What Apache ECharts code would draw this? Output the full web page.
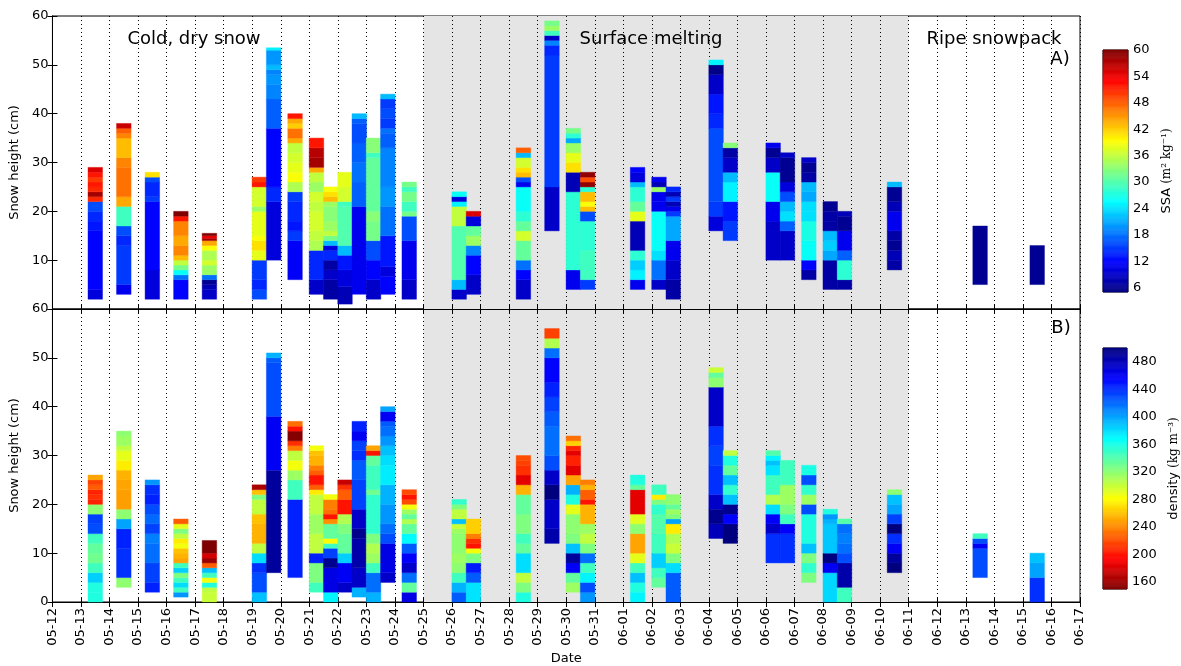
<!DOCTYPE html>
<html>
<head>
<meta charset="utf-8">
<script src="https://cdn.jsdelivr.net/npm/echarts@6/dist/echarts.min.js"></script>
<style>
html,body{margin:0;padding:0;background:#fff;}
#chart{width:1181px;height:666px;}
</style>
</head>
<body>
<div id="chart"></div>
<script>
// ---------- DATA ----------
// tick labels of the date axis (day 0 = 05-12)
const dateLabels = ['05-12','05-13','05-14','05-15','05-16','05-17','05-18','05-19','05-20','05-21','05-22','05-23','05-24','05-25','05-26','05-27','05-28','05-29','05-30','05-31','06-01','06-02','06-03','06-04','06-05','06-06','06-07','06-08','06-09','06-10','06-11','06-12','06-13','06-14','06-15','06-16','06-17'];
// measurement times of each profile (days after 05-12 00:00)
const times = [1.5,2.5,3.5,4.5,5.5,7.25,7.75,8.5,9.25,9.75,10.25,10.75,11.25,11.75,12.5,14.25,14.75,16.5,17.5,18.25,18.75,20.5,21.25,21.75,23.25,23.75,25.25,25.75,26.5,27.25,27.75,29.5,32.5,34.5];
// surface melting period (days)
const meltingPeriod = [13, 30];
const phaseLabels = ['Cold, dry snow', 'Surface melting', 'Ripe snowpack'];

// Profiles: first number = bottom height (cm), then [layer top (cm), value] upward
// SSA (m2 kg-1)
const ssa01 = [2,[4,10],[16,12],[18,13],[20,14],[22,16],[23,51],[24,58],[25,51],[26,52],[27,50],[28,52],[29,55]];
const ssa02 = [3,[5,11],[13,15],[15,14],[17,16],[21,29],[23,44],[29,47],[31,46],[35,43],[36,46],[37,48],[38,56]];
const ssa03 = [2,[8,10],[22,12],[23,15],[26,14],[27,16],[28,41]];
const ssa04 = [2,[6,12],[7,18],[8,26],[9,32],[10,36],[11,43],[13,46],[15,44],[18,46],[19,52],[20,60]];
const ssa05 = [2,[4,9],[5,8],[6,6],[7,18],[9,34],[10,37],[12,35],[13,39],[14,44],[14.5,58],[15,54],[15.5,60]];
const ssa06 = [2,[4,16],[6,14],[10,15],[12,38],[14,41],[15,39],[20,38],[21,34],[23,37],[25,37],[26,52],[27,50]];
const ssa07 = [10,[22,10],[25,14],[37,12],[43,17],[46,19],[48,20],[49,19],[50,22],[53,20],[53.5,25]];
const ssa08 = [6,[14,11.5],[16,15],[18,13],[22,14],[24,15],[26,35],[28,39],[30,38],[32,37],[34,36],[35,44],[37,47],[38,42],[39,44],[40,52]];
const ssa09 = [3,[6,9],[12,14],[14,35],[16,36],[18,37],[20,37],[22,36],[24,37],[26,34],[28,36],[29,44],[31,58],[33,57],[35,52]];
const ssa10 = [2,[6,7],[8,9],[10,7],[12,14],[13,10],[14,22],[15,32],[16,36],[18,34],[21,33],[22,34],[23,43],[24,41],[25,39]];
const ssa11 = [1,[4.6,8],[8,10],[11,13],[13,22],[21,30],[22,29],[25,37],[28,38]];
const ssa12 = [3,[21,11],[26,17],[30,18],[34,17],[38,16],[39,17],[40,22]];
const ssa13 = [2,[6,9],[10,12],[14,16],[18,32],[20,33],[31,31],[32,29],[35,33]];
const ssa14 = [3,[6.7,12],[8.7,10],[15,13],[21,18],[25,20],[33,19],[36,17],[37,18],[39,15],[41,16],[43,15],[44,22]];
const ssa15 = [2,[6,9],[14,11],[19,16],[20,32],[22,29],[24,32],[25,29],[26,32]];
const ssa16 = [2,[4,9],[6,22],[17,30],[21,36],[22,25],[23,10],[24,26]];
const ssa17 = [3,[7,9],[11,12],[13,19],[15,34],[17,31],[19,10],[20,55]];
const ssa18 = [2,[6,9],[8,12],[10,18],[14,31],[16,37],[18,31],[20,28],[25,26],[26,11],[27,16],[28,43],[29,41],[30,37],[31,37],[32,22],[33,48]];
const ssa19 = [16,[25,9],[52,15],[54,14],[55,19],[56,9],[57,29],[58,34],[59,32]];
const ssa20 = [4,[8,11],[24,28],[28,8],[30,41],[32,38],[34,34],[35,21],[36,28],[37,32]];
const ssa21 = [4,[6,15],[12,29],[18,28],[20,16],[21,43],[22,39],[24,43],[25,28],[26,59],[27,49],[28,59]];
const ssa22 = [4,[6,11],[8,25],[10,23],[12,28],[18,8],[20,38],[22,31],[25,28],[26,22],[28,10],[29,12]];
const ssa23 = [4,[6,9],[10,18],[12,24],[20,26],[22,11],[24,11],[25,34],[26,8],[27,11]];
const ssa24 = [2,[6,7],[10,9],[14,11],[19,21],[20,15],[21,11],[22,8],[23,15],[24,8],[25,14]];
const ssa25 = [16,[19,10],[22,15],[37,16],[40,14],[44,13],[48,9],[50,5.5],[51,25]];
const ssa26 = [14,[18,15],[22,13],[26,25],[28,22],[31,9],[33,7],[34,33]];
const ssa27 = [10,[18,9],[22,11],[28,26],[31,9],[33,6],[34,11]];
const ssa28 = [10,[16,9],[18,17],[20,24],[22,22],[24,16],[26,10],[31,6],[32,9]];
const ssa29 = [6,[8,7],[10,12],[14,26],[18,27],[20,24],[22,24],[24,21],[26,22],[28,7],[30,6],[31,9]];
const ssa30 = [4,[10,7],[12,21],[14,23],[16,22],[18,7],[20,7],[22,6]];
const ssa31 = [4,[6,7],[10,28],[12,17],[16,11],[19,6],[20,8]];
const ssa32 = [8,[10,7],[12,8],[14,6],[16,7],[20,11],[22,8],[25,6],[26,22]];
const ssa33 = [5,[17,6]];
const ssa34 = [5,[13,6]];

// density (kg m-3)
const rho01 = [0,[2,358],[4,358],[6,385],[8,347],[10,330],[12,335],[14,347],[16,430],[18,434],[20,320],[21,205],[22,210],[23,205],[24,226],[25,216],[26,250]];
const rho02 = [3,[5,320],[11,440],[15,445],[17,400],[19,320],[23,248],[25,250],[27,255],[29,275],[31,290],[32,303],[34,315],[35,320]];
const rho03 = [2,[4,445],[8,434],[12,418],[14,412],[16,434],[18,420],[20,430],[22,445],[24,440],[25,405]];
const rho04 = [1,[2,405],[3,347],[4,380],[5,347],[6,325],[7,385],[8,347],[9,250],[10,255],[11,260],[12,285],[13,275],[14,303],[15,325],[16,290],[17,226]];
const rho05 = [0,[2,300],[3,303],[4,358],[5,285],[6,347],[7,390],[8,226],[9,160],[10,180],[12.6,150]];
const rho06 = [0,[2,390],[6,430],[8,440],[10,380],[12,303],[16,255],[18,260],[21,303],[22,325],[23,260],[24,165]];
const rho07 = [6,[27,490],[38,460],[49,430],[50,425],[51,395]];
const rho08 = [5,[21,445],[25,347],[27,315],[29,285],[31,303],[32,237],[33,210],[35,152],[36,200],[37,232]];
const rho09 = [2,[4,347],[8,325],[10,445],[14,303],[18,315],[22,303],[23,275],[24,226],[26,200],[27,226],[28,237],[30,255],[31,260],[32,285]];
const rho10 = [0,[2,372],[7,465],[9,495],[11,434],[12,347],[13,281],[16,335],[17,243],[18,200],[19,232],[21,237],[22,285]];
const rho11 = [2,[4,475],[8,460],[10,385],[14,335],[16,325],[18,308],[21,200],[23,226],[24,210],[25,175]];
const rho12 = [1,[3,395],[7,475],[13,485],[15,495],[19,475],[25,434],[29,425],[31,440],[33,434],[35,460],[37,445]];
const rho13 = [0,[2,395],[6,418],[8,347],[10,315],[12,308],[14,325],[22,352],[23,330],[28,347],[30,335],[31,200],[32,250]];
const rho14 = [4,[6,475],[12,465],[14,430],[16,418],[20,405],[24,395],[28,375],[30,380],[32,390],[34,405],[36,418],[37,425],[39,460],[40,400]];
const rho15 = [0,[2,465],[4,335],[6,418],[8,475],[10,458],[12,425],[14,370],[16,335],[17,308],[18,335],[19,315],[20,285],[21,220],[22,200],[23,220]];
const rho16 = [0,[2,425],[4,395],[6,347],[8,320],[10,315],[14,320],[15,315],[16,300],[17,390],[19,303],[20,325],[21,352]];
const rho17 = [0,[4,378],[6,425],[8,448],[10,325],[11,285],[12,200],[13,210],[14,237],[17,265]];
const rho18 = [0,[2,358],[4,325],[6,303],[10,380],[12,335],[14,347],[18,325],[22,335],[24,255],[26,185],[28,210],[29,216],[30,220]];
const rho19 = [12,[15,485],[21,475],[24,500],[27,475],[30,430],[36,418],[39,425],[42,434],[45,445],[50,456],[52,418],[54,308],[56,216]];
const rho20 = [2,[4,315],[6,335],[8,458],[10,490],[12,390],[14,325],[18,320],[20,290],[22,358],[24,395],[26,250],[28,185],[30,205],[31,185],[32,205],[33,265],[34,232]];
const rho21 = [0,[2,405],[4,430],[6,372],[8,347],[10,418],[12,325],[14,303],[16,315],[20,255],[21,200],[23,226],[24,255],[25,237]];
const rho22 = [0,[2,372],[4,358],[6,390],[8,347],[10,290],[14,250],[16,320],[18,292],[23,185],[24,335],[26,358]];
const rho23 = [3,[5,335],[7,347],[10,385],[14,347],[18,340],[20,352],[21,325],[22,275],[24,347]];
const rho24 = [0,[6,425],[8,380],[10,325],[12,300],[14,308],[16,275],[17,400],[18,325],[19,315],[20,335],[22,320]];
const rho25 = [13,[16,480],[19,495],[22,475],[28,440],[32,434],[36,440],[44,475],[46,320],[47,335],[48,300]];
const rho26 = [12,[16,500],[18,456],[20,495],[22,390],[24,352],[26,390],[28,335],[30,358],[31,303]];
const rho27 = [8,[14,440],[16,475],[18,458],[20,380],[22,308],[26,347],[28,378],[29,390],[30,372],[31,340]];
const rho28 = [8,[14,440],[16,458],[18,347],[20,325],[24,315],[29,347]];
const rho29 = [4,[6,325],[8,352],[10,325],[12,390],[18,358],[20,430],[22,315],[24,352],[26,430],[28,360]];
const rho30 = [0,[6,382],[8,460],[10,500],[16,388],[17,395],[18,405],[19,358]];
const rho31 = [0,[3,347],[8,485],[10,430],[12,418],[14,412],[16,418],[17,340]];
const rho32 = [6,[8,500],[10,490],[12,460],[14,440],[16,500],[18,434],[20,400],[22,390],[23,320]];
const rho33 = [5,[11,430],[12,460],[13,430],[14,347]];
const rho34 = [0,[5,440],[8,400],[10,390]];

const ssaProfiles = [ssa01,ssa02,ssa03,ssa04,ssa05,ssa06,ssa07,ssa08,ssa09,ssa10,ssa11,ssa12,ssa13,ssa14,ssa15,ssa16,ssa17,ssa18,ssa19,ssa20,ssa21,ssa22,ssa23,ssa24,ssa25,ssa26,ssa27,ssa28,ssa29,ssa30,ssa31,ssa32,ssa33,ssa34];
const rhoProfiles = [rho01,rho02,rho03,rho04,rho05,rho06,rho07,rho08,rho09,rho10,rho11,rho12,rho13,rho14,rho15,rho16,rho17,rho18,rho19,rho20,rho21,rho22,rho23,rho24,rho25,rho26,rho27,rho28,rho29,rho30,rho31,rho32,rho33,rho34];

// colour scale ranges and colourbar tick labels
const ssaRange = [5, 60];
const rhoRange = [150, 500];
const ssaTicks = [6,12,18,24,30,36,42,48,54,60];
const rhoTicks = [160,200,240,280,320,360,400,440,480];

// ---------- BUILD ----------
const FONT = 'DejaVu Sans';
const HALF = 0.255; // half width of a profile column (days)
const jet = ['#00007F','#0000FF','#007FFF','#00FFFF','#7FFF7F','#FFFF00','#FF7F00','#FF0000','#7F0000'];

function layers(profiles) {
  const out = [];
  profiles.forEach((p, i) => {
    let b = p[0];
    for (let k = 1; k < p.length; k++) {
      out.push([times[i], b, p[k][0], p[k][1]]);
      b = p[k][0];
    }
  });
  return out;
}
function ramp(range) {
  const out = [], n = 220, st = (range[1] - range[0]) / n;
  for (let i = 0; i < n; i++) {
    const v = range[0] + i * st;
    out.push([0, v, v + st, v + st / 2]);
  }
  return out;
}
function renderCell(params, api) {
  const t = api.value(0), b = api.value(1), top = api.value(2);
  const p0 = api.coord([t - HALF, top]);
  const p1 = api.coord([t + HALF, b]);
  const c = api.visual('color');
  return {type: 'rect', shape: {x: p0[0], y: p0[1], width: p1[0] - p0[0], height: p1[1] - p0[1]},
          style: {fill: c, stroke: c, lineWidth: 0.4}};
}
function renderBar(params, api) {
  const p0 = api.coord([0, api.value(2)]);
  const p1 = api.coord([1, api.value(1)]);
  const c = api.visual('color');
  return {type: 'rect', shape: {x: p0[0], y: p0[1], width: p1[0] - p0[0], height: p1[1] - p0[1]},
          style: {fill: c, stroke: c, lineWidth: 0.6}};
}

const chart = echarts.init(document.getElementById('chart'), null, {renderer: 'canvas'});
const L = 51, W = 1029;
const txt = {color: '#000', fontFamily: FONT, fontSize: 13};
const inTick = {show: true, inside: true, length: 5, lineStyle: {color: '#000'}};
const axLine = {show: true, lineStyle: {color: '#000', width: 1}};

function dateX(grid, showLabels, top) {
  return {
    type: 'value', gridIndex: grid, min: 0, max: 36, interval: 1,
    position: top ? 'top' : 'bottom', z: 5,
    axisLine: axLine, axisTick: inTick,
    axisLabel: showLabels ? Object.assign({rotate: 90, margin: 6, formatter: v => dateLabels[Math.round(v)] || ''}, txt) : {show: false},
    splitLine: top ? {show: false} : {show: true, lineStyle: {color: '#000', type: [1, 3], width: 1}},
    name: showLabels ? 'Date' : '', nameLocation: 'middle', nameGap: 50,
    nameTextStyle: txt
  };
}
function heightY(grid, right, hideZero) {
  return {
    type: 'value', gridIndex: grid, min: 0, max: 60, interval: 10,
    position: right ? 'right' : 'left',
    axisLine: axLine, axisTick: inTick, splitLine: {show: false},
    axisLabel: right ? {show: false} : Object.assign({margin: 4, formatter: v => (hideZero && v === 0) ? '' : String(v)}, txt),
    name: right ? '' : 'Snow height (cm)', nameLocation: 'middle', nameGap: 28, nameTextStyle: txt
  };
}
function cbY(grid, range, ticks, nameRich, gap) {
  return {
    type: 'value', gridIndex: grid, min: range[0], max: range[1], position: 'right',
    axisLine: {show: false}, axisTick: {show: false}, splitLine: {show: false},
    axisLabel: Object.assign({customValues: ticks, margin: 5}, txt),
    name: nameRich, nameLocation: 'middle', nameRotate: 90, nameGap: gap,
    nameTextStyle: {color: '#000', fontFamily: FONT, fontSize: 13,
      rich: {a: {fontFamily: FONT, fontSize: 13, color: '#000'}, b: {fontFamily: 'DejaVu Serif', fontSize: 12, color: '#000'}}}
  };
}

const gray = {silent: true, itemStyle: {color: '#e5e5e5'}, data: [[{xAxis: meltingPeriod[0]}, {xAxis: meltingPeriod[1]}]]};
const labelFont = '18px "DejaVu Sans"';
function note(text, x, y) {
  return {type: 'text', x: x, y: y, z: 20, style: {text: text, font: labelFont, fill: '#000', align: 'center', verticalAlign: 'middle', textAlign: 'center', textVerticalAlign: 'middle'}};
}

const option = {
  animation: false,
  backgroundColor: '#fff',
  grid: [
    {left: L, top: 16, width: W, height: 293, show: true, borderColor: '#000', borderWidth: 1},
    {left: L, top: 309, width: W, height: 294, show: true, borderColor: '#000', borderWidth: 1},
    {left: 1103, top: 50, width: 25, height: 242, show: true, borderColor: '#000', borderWidth: 1},
    {left: 1103, top: 348, width: 25, height: 241, show: true, borderColor: '#000', borderWidth: 1}
  ],
  xAxis: [
    dateX(0, false, false), dateX(0, false, true), dateX(1, true, false), dateX(1, false, true),
    {type: 'value', gridIndex: 2, min: 0, max: 1, show: false},
    {type: 'value', gridIndex: 3, min: 0, max: 1, show: false}
  ],
  yAxis: [
    heightY(0, false, true), heightY(0, true, false), heightY(1, false, false), heightY(1, true, false),
    cbY(2, ssaRange, ssaTicks, '{a|SSA }{b|(m² kg⁻¹)}', 32),
    cbY(3, rhoRange, rhoTicks, '{a|density }{b|(kg m⁻³)}', 40)
  ],
  visualMap: [
    {type: 'continuous', show: false, min: ssaRange[0], max: ssaRange[1], dimension: 3, seriesIndex: [0, 2], inRange: {color: jet}},
    {type: 'continuous', show: false, min: rhoRange[0], max: rhoRange[1], dimension: 3, seriesIndex: [1, 3], inRange: {color: jet.slice().reverse()}}
  ],
  series: [
    {type: 'custom', xAxisIndex: 0, yAxisIndex: 0, z: 10, renderItem: renderCell, data: layers(ssaProfiles), markArea: gray},
    {type: 'custom', xAxisIndex: 2, yAxisIndex: 2, z: 10, renderItem: renderCell, data: layers(rhoProfiles), markArea: gray},
    {type: 'custom', xAxisIndex: 4, yAxisIndex: 4, renderItem: renderBar, data: ramp(ssaRange)},
    {type: 'custom', xAxisIndex: 5, yAxisIndex: 5, renderItem: renderBar, data: ramp(rhoRange)}
  ],
  graphic: [
    note(phaseLabels[0], 194, 39),
    note(phaseLabels[1], 651, 39),
    note(phaseLabels[2], 994, 39),
    note('A)', 1060, 59),
    note('B)', 1061, 328)
  ]
};
chart.setOption(option);
</script>
</body>
</html>
